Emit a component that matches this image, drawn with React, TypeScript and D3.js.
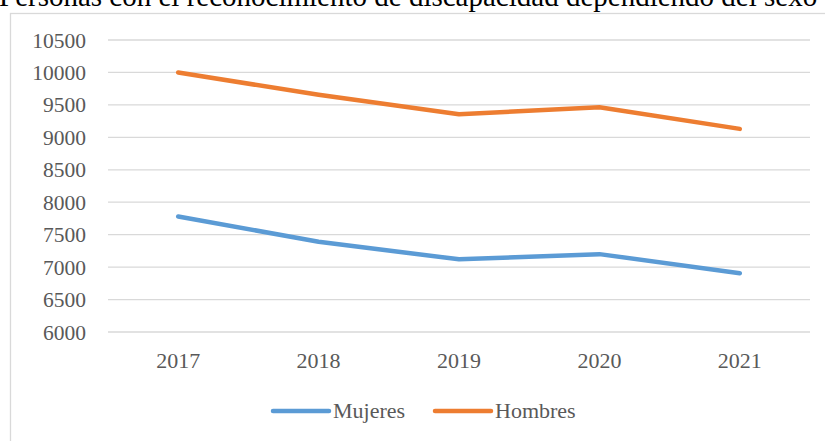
import React from "react";
import * as d3 from "d3";

const title = "Personas con el reconocimiento de discapacidad dependiendo del sexo";
const years = ["2017", "2018", "2019", "2020", "2021"];
const mujeres = [7780, 7390, 7120, 7200, 6905];
const hombres = [10000, 9655, 9355, 9465, 9130];
const yTicks = [6000, 6500, 7000, 7500, 8000, 8500, 9000, 9500, 10000, 10500];
const seriesNames = ["Mujeres", "Hombres"];
const seriesColors = ["#5B9BD5", "#ED7D31"];

export default function App() {
  const W = 825, H = 441;
  const x = d3.scaleBand<string>().domain(years).range([108, 810]);
  const y = d3.scaleLinear().domain([6000, 10500]).range([332, 40]);
  const line = d3
    .line<number>()
    .x((_, i) => (x(years[i]) as number) + x.bandwidth() / 2)
    .y((d) => y(d));
  const series = [mujeres, hombres];
  const font = "'Liberation Serif', 'Times New Roman', serif";
  const legendX = [273, 435];
  return (
    <svg
      width={W}
      height={H}
      style={{ position: "absolute", left: 0, top: 0, background: "#fff" }}
      fontFamily={font}
    >
      <rect x={10.5} y={13.5} width={830} height={440} fill="#fff" stroke="#d9d9d9" strokeWidth={1.3} />
      <text x={-1} y={6} fontSize={29} fill="#000">{title}</text>
      {yTicks.map((t) => (
        <g key={t}>
          <line x1={108} x2={810} y1={y(t)} y2={y(t)} stroke="#d9d9d9" strokeWidth={1.3} />
          <text x={86} y={y(t)} dy="0.35em" textAnchor="end" fontSize={21.5} fill="#595959">
            {t}
          </text>
        </g>
      ))}
      {years.map((yr) => (
        <text
          key={yr}
          x={(x(yr) as number) + x.bandwidth() / 2}
          y={368}
          textAnchor="middle"
          fontSize={22}
          fill="#595959"
        >
          {yr}
        </text>
      ))}
      {series.map((s, i) => (
        <path
          key={i}
          d={line(s) || ""}
          fill="none"
          stroke={seriesColors[i]}
          strokeWidth={4.5}
          strokeLinecap="round"
          strokeLinejoin="round"
        />
      ))}
      {seriesNames.map((n, i) => (
        <g key={n}>
          <line
            x1={legendX[i]}
            x2={legendX[i] + 56}
            y1={411}
            y2={411}
            stroke={seriesColors[i]}
            strokeWidth={4.5}
            strokeLinecap="round"
          />
          <text x={legendX[i] + 60} y={418} fontSize={22} fill="#595959">
            {n}
          </text>
        </g>
      ))}
    </svg>
  );
}
